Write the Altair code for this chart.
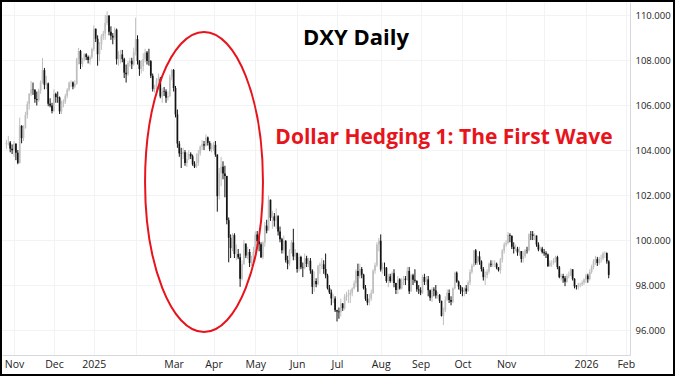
import altair as alt
import pandas as pd

# ---- daily candles (high, low, close); open = previous close ----
first_open = 104.26
oct24 = [(104.45,104.05,104.32),(104.63,104.20,104.33),(104.40,103.90,104.06),(104.25,103.82,103.99)]
nov24 = [(104.40,103.70,104.28),(104.30,103.55,103.88),(104.00,103.37,103.43),(105.44,103.40,105.08),
         (105.10,104.30,104.53),(105.10,104.40,104.99),(105.70,104.95,105.56),(106.17,105.40,106.04),
         (106.53,105.80,106.50),(107.07,106.40,106.69),(107.00,106.45,106.68),(106.70,106.10,106.27),
         (106.60,105.98,106.22),(106.72,106.15,106.65),(107.09,106.50,107.00),(108.09,106.95,107.55),
         (107.65,106.70,106.90),(107.30,106.70,106.96),(107.00,105.95,106.06),(106.30,105.90,105.98),
         (106.10,105.63,105.74)]
dec24 = [(106.70,105.70,106.49),(106.55,106.10,106.35),(106.60,106.10,106.33),(106.38,105.60,105.72),
         (106.20,105.60,106.06),(106.25,105.90,106.16),(106.50,106.05,106.41),(106.75,106.30,106.68),
         (107.05,106.60,106.99),(107.10,106.80,107.00),(107.05,106.70,106.82),(107.10,106.75,106.94),
         (108.10,106.90,108.05),(108.54,107.80,108.40),(108.45,107.60,107.82),(108.10,107.70,108.04),
         (108.30,107.95,108.26),(108.30,108.00,108.13),(108.20,107.85,108.00),(108.20,107.80,108.13),
         (108.55,108.05,108.49)]
jan25 = [(109.54,108.40,109.39),(109.40,108.80,108.95),(109.10,107.75,108.26),(108.80,107.95,108.69),
         (109.15,108.45,109.06),(109.30,108.90,109.18),(110.00,108.90,109.65),(110.17,109.55,109.97),
         (110.00,109.10,109.26),(109.50,108.90,109.08),(109.20,108.70,109.00),(109.45,108.90,109.35),
         (109.40,107.80,108.04),(108.40,107.75,108.06),(108.45,107.85,108.25),(108.45,107.90,108.04),
         (108.10,107.20,107.44),(107.80,107.00,107.37),(107.95,107.30,107.87),(108.10,107.70,107.97),
         (108.10,107.60,107.81),(108.55,107.75,108.37)]
feb25 = [(109.88,108.20,108.93),(109.10,107.80,107.96),(108.00,107.30,107.60),(108.00,107.40,107.72),
         (108.30,107.50,108.04),(108.50,107.90,108.33),(108.40,107.80,107.96),(108.50,107.75,107.95),
         (108.00,107.20,107.30),(107.40,106.60,106.71),(106.90,106.55,106.77),(107.20,106.60,107.10),
         (107.40,106.90,107.17),(107.25,106.30,106.38),(106.75,106.10,106.62),(106.80,106.40,106.60),
         (106.70,106.10,106.32),(106.60,106.20,106.40),(107.35,106.35,107.24),(107.60,107.10,107.56)]
mar25 = [(107.60,106.60,106.76),(106.85,105.45,105.59),(105.80,104.10,104.29),(104.40,103.70,103.85),
         (104.10,103.20,103.84),(104.10,103.60,103.90),(104.00,103.30,103.42),(103.90,103.25,103.60),
         (104.00,103.55,103.83),(103.90,103.60,103.72),(103.80,103.30,103.37),(103.50,103.20,103.26),
         (103.85,103.20,103.43),(104.00,103.30,103.85),(104.20,103.75,104.15),(104.45,104.00,104.26),
         (104.40,104.00,104.20),(104.70,104.15,104.56),(104.60,104.20,104.32),(104.40,103.95,104.04),
         (104.30,103.90,104.21)]
apr25 = [(104.35,103.95,104.23),(104.40,103.70,103.80),(103.80,101.26,101.95),(103.20,101.80,102.99),
         (103.70,102.40,103.26),(103.50,102.70,102.96),(103.30,101.90,102.85),(102.85,100.70,100.88),
         (101.00,99.01,100.10),(100.25,99.20,99.64),(100.30,99.50,100.22),(100.30,99.20,99.38),
         (99.80,99.10,99.38),(99.60,99.15,99.23),(99.40,97.92,98.28),(99.10,98.20,98.92),
         (100.00,98.90,99.85),(99.80,99.20,99.31),(99.70,99.15,99.47),(99.60,98.80,98.98),
         (99.30,98.85,99.22),(99.70,99.05,99.47)]
may25 = [(100.38,99.40,100.25),(100.40,99.70,99.95),(100.10,99.50,99.81),(99.90,99.20,99.24),
         (99.95,99.15,99.89),(100.80,99.70,100.64),(100.90,100.30,100.42),(101.98,100.90,101.79),
         (101.80,100.85,100.99),(101.30,100.50,101.05),(101.20,100.60,100.86),(101.40,100.50,101.09),
         (101.00,100.20,100.38),(100.60,99.90,100.04),(100.10,99.40,99.55),(100.20,99.40,99.96),
         (100.00,99.00,99.11),(99.30,98.70,98.95),(99.60,98.85,99.52),(100.00,99.40,99.89),
         (100.50,99.10,99.27),(99.60,99.10,99.44)]
jun25 = [(99.40,98.55,98.71),(99.40,98.60,99.25),(99.30,98.70,98.79),(99.00,98.35,98.77),
         (99.40,98.70,99.19),(99.30,98.80,98.94),(99.20,98.80,99.08),(99.20,98.50,98.64),
         (98.70,97.60,97.92),(98.60,97.70,98.18),(98.30,97.90,98.03),(98.90,98.00,98.85),
         (99.00,98.50,98.91),(99.20,98.70,98.92),(99.10,98.50,98.71),(99.40,98.30,98.43),
         (98.50,97.80,97.86),(98.00,97.60,97.67),(97.80,97.10,97.40),(97.60,97.20,97.40),
         (97.50,96.80,96.88)]
jul25 = [(96.90,96.38,96.82),(97.00,96.50,96.79),(97.40,96.60,97.18),(97.20,96.85,96.97),
         (97.60,96.90,97.48),(97.70,97.30,97.54),(97.80,97.20,97.57),(97.80,97.20,97.65),
         (97.90,97.50,97.85),(98.20,97.80,98.08),(98.70,97.90,98.62),(98.95,97.70,98.40),
         (98.95,98.30,98.71),(98.80,98.30,98.46),(98.50,97.80,97.86),(98.00,97.30,97.39),
         (97.60,97.10,97.22),(97.60,97.10,97.40),(97.80,97.30,97.65),(98.70,97.60,98.63),
         (99.00,98.50,98.88),(99.90,98.80,99.80),(100.10,99.50,99.97)]
aug25 = [(100.25,98.60,98.69),(99.00,98.50,98.78),(99.00,98.40,98.77),(98.80,98.10,98.18),
         (98.50,97.90,98.38),(98.50,98.10,98.18),(98.60,98.10,98.52),(98.70,97.90,98.09),
         (98.10,97.60,97.78),(98.40,97.60,98.25),(98.30,97.80,97.85),(98.30,97.80,98.16),
         (98.40,98.00,98.28),(98.40,98.00,98.23),(98.80,98.20,98.63),(98.80,97.60,97.72),
         (98.50,97.70,98.43),(98.50,98.00,98.23),(98.70,98.10,98.19),(98.20,97.70,97.81),
         (98.00,97.60,97.77)]
sep25 = [(97.90,97.55,97.66),(98.45,97.60,98.36),(98.50,98.00,98.14),(98.40,98.00,98.25),
         (98.40,97.50,97.77),(97.80,97.30,97.43),(97.90,97.25,97.80),(97.90,97.50,97.76),
         (98.00,97.40,97.53),(97.70,97.40,97.55),(97.60,97.20,97.30),(97.30,96.60,96.63),
         (97.00,96.22,96.88),(97.50,96.80,97.35),(97.80,97.30,97.65),(97.80,97.20,97.33),
         (97.50,97.10,97.26),(97.90,97.20,97.86),(98.60,97.80,98.55),(98.60,98.10,98.15),
         (98.20,97.80,97.93),(98.00,97.60,97.77)]
oct25 = [(97.90,97.50,97.71),(97.90,97.50,97.85),(98.00,97.60,97.72),(98.20,97.70,98.11),
         (98.70,98.00,98.58),(98.95,98.50,98.86),(99.56,98.80,99.54),(99.60,98.90,98.98),
         (99.30,98.90,99.27),(99.50,98.90,99.05),(99.10,98.60,98.71),(98.80,98.20,98.35),
         (98.60,98.00,98.43),(98.70,98.30,98.59),(99.00,98.50,98.95),(99.10,98.80,98.90),
         (99.10,98.80,98.93),(99.10,98.80,98.95),(99.00,98.70,98.78),(98.80,98.60,98.66),
         (99.20,98.50,99.13),(99.60,99.00,99.53),(99.90,99.40,99.80)]
nov25 = [(100.00,99.70,99.87),(100.36,99.80,100.22),(100.30,99.90,100.19),(100.20,99.60,99.70),
         (99.90,99.40,99.60),(99.80,99.50,99.61),(99.70,99.30,99.45),(99.70,99.30,99.51),
         (99.50,99.00,99.16),(99.50,99.00,99.29),(99.60,99.20,99.55),(99.70,99.40,99.54),
         (100.30,99.50,100.26),(100.40,100.00,100.25),(100.40,100.00,100.18),(100.30,100.00,100.20),
         (100.20,99.70,99.80),(99.90,99.50,99.58),(99.70,99.50,99.62),(99.70,99.40,99.46)]
dec25 = [(99.60,99.30,99.41),(99.50,99.20,99.36),(99.40,98.80,98.85),(99.10,98.80,98.99),
         (99.10,98.80,98.99),(99.20,98.90,99.09),(99.30,99.00,99.24),(99.30,98.70,98.80),
         (98.85,98.30,98.35),(98.50,98.20,98.40),(98.50,98.10,98.30),(98.40,97.95,98.15),
         (98.50,98.10,98.40),(98.60,98.30,98.42),(98.75,98.40,98.70),(98.70,98.20,98.28),
         (98.30,97.85,97.94),(98.00,97.80,97.92),(98.10,97.80,98.02),(98.10,97.90,98.03),
         (98.20,97.95,98.10),(98.30,98.00,98.25)]
jan26 = [(98.50,98.10,98.42),(98.50,98.10,98.26),(98.70,98.20,98.58),(98.90,98.50,98.80),
         (99.15,98.70,99.05),(99.30,98.90,99.15),(99.25,98.85,98.98),(99.25,98.90,99.16),
         (99.35,99.00,99.18),(99.48,99.10,99.40),(99.50,99.20,99.42),(99.45,98.95,99.05),
         (99.10,98.30,98.45)]

months = [oct24, nov24, dec24, jan25, feb25, mar25, apr25, may25, jun25,
          jul25, aug25, sep25, oct25, nov25, dec25, jan26]
# month labels for month starts Nov 2024 .. Feb 2026 ("" = grid line, no label)
month_labels = ["Nov", "Dec", "2025", "", "Mar", "Apr", "May", "Jun", "Jul",
                "Aug", "Sep", "Oct", "Nov", "", "2026", "Feb"]
days_left_jan26 = 8
y_ticks = [96, 98, 100, 102, 104, 106, 108, 110]

title_text = "DXY Daily"
note_text = "Dollar Hedging 1: The First Wave"
ellipse_center = {"i": [104], "v": [102.58]}

rows = []
prev = first_open
idx = 0
month_starts = []
for m in months:
    month_starts.append(idx)
    for h, l, c in m:
        rows.append({"i": idx, "o": prev, "h": h, "l": l, "c": c,
                     "dir": "up" if c >= prev else "down"})
        prev = c
        idx += 1
df = pd.DataFrame(rows)
tick_vals = month_starts[1:] + [idx + days_left_jan26]

label_expr = "''"
for v, lab in zip(reversed(tick_vals), reversed(month_labels)):
    label_expr = f"datum.value == {v} ? '{lab}' : ({label_expr})"

W, H = 628, 353
FONT = "Open Sans"
x_scale = alt.Scale(domain=[-2.32, 328.2], nice=False, zero=False)
y_scale = alt.Scale(domain=[94.89, 110.58], nice=False, zero=False)
x_axis = alt.Axis(values=tick_vals, labelExpr=label_expr, grid=True, gridColor="#f2f3f5",
                  domainColor="#d6d8dd", ticks=False, labelColor="#222222", labelFont=FONT,
                  labelFontSize=10.5, labelPadding=4, title=None, labelOverlap=False,
                  labelFlush=False,
                  labelFontWeight={"condition": {"test": "datum.label == '2025' || datum.label == '2026'",
                                                 "value": "bold"}, "value": "normal"})
y_axis = alt.Axis(orient="right", values=y_ticks, format=".3f", grid=True, gridColor="#f2f3f5",
                  domainColor="#d6d8dd", ticks=False, labelColor="#222222", labelFont=FONT,
                  labelFontSize=9.5, labelPadding=5, title=None)
color = alt.Color("dir:N", scale=alt.Scale(domain=["up", "down"], range=["#bfbfbf", "#141414"]),
                  legend=None)

base = alt.Chart(df)
wicks = base.mark_rule(strokeWidth=1).encode(
    x=alt.X("i:Q", scale=x_scale, axis=x_axis),
    y=alt.Y("l:Q", scale=y_scale, axis=y_axis), y2="h:Q", color=color)
bodies = base.mark_rule(strokeWidth=1.7).encode(
    x=alt.X("i:Q", scale=x_scale, axis=x_axis),
    y=alt.Y("o:Q", scale=y_scale, axis=y_axis), y2="c:Q", color=color)

ellipse = alt.Chart(pd.DataFrame(ellipse_center)).mark_point(
    shape="M -0.393 0 A 0.393 1 0 1 0 0.393 0 A 0.393 1 0 1 0 -0.393 0",
    size=90000, filled=False, stroke="#e8141c", strokeWidth=2, opacity=1
).encode(x=alt.X("i:Q", scale=x_scale, axis=x_axis),
         y=alt.Y("v:Q", scale=y_scale, axis=y_axis))

title = alt.Chart(pd.DataFrame({"t": [title_text]})).mark_text(
    font=FONT, fontSize=22, fontWeight="bold", color="#000000", align="center", baseline="alphabetic"
).encode(text="t:N", x=alt.value(354), y=alt.value(43))
note = alt.Chart(pd.DataFrame({"t": [note_text]})).mark_text(
    font=FONT, fontSize=21, fontWeight="bold", color="#e8141c", align="center", baseline="alphabetic"
).encode(text="t:N", x=alt.value(442), y=alt.value(142))

frame = alt.Chart(pd.DataFrame({"t": [0]})).mark_rect(
    fill=None, stroke="#000000", strokeWidth=2
).encode(x=alt.value(-1), x2=alt.value(672), y=alt.value(-1), y2=alt.value(373))

chart = alt.layer(wicks, bodies, ellipse, title, note, frame).properties(
    width=W, height=H,
    autosize=alt.AutoSizeParams(type="none"),
    padding={"left": 2, "top": 2, "right": 45, "bottom": 21},
    background="#ffffff"
).configure_view(stroke=None)

chart.save("out.html", embed_options={"renderer": "svg", "actions": False})
